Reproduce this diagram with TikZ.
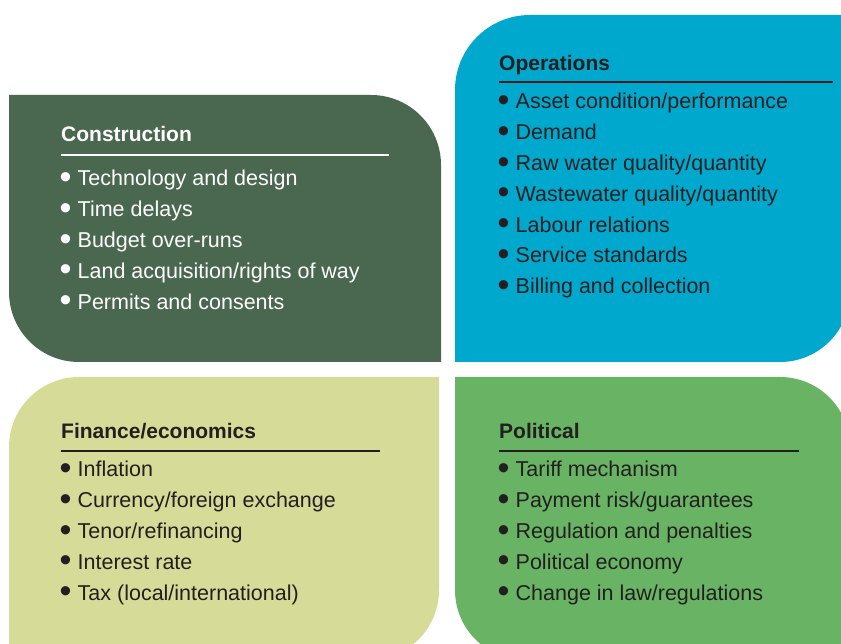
\documentclass[tikz,border=0pt]{standalone}
\usepackage{fontspec}
\setmainfont{Liberation Sans}
\definecolor{consC}{RGB}{74,104,80}
\definecolor{operC}{RGB}{0,168,206}
\definecolor{finC}{RGB}{214,220,152}
\definecolor{polC}{RGB}{104,180,100}
\definecolor{inkC}{RGB}{35,31,32}
\newcommand\mybul{\makebox[16.5pt][l]{\hspace*{-1.5pt}\smash{\raisebox{-2.5pt}{\fontsize{34}{34}\selectfont •}}}}
\tikzset{
  bodytext/.style={anchor=base west, inner sep=0pt, font=\fontsize{21.5}{26}\selectfont},
  headtext/.style={anchor=base west, inner sep=0pt, font=\bfseries\fontsize{21}{25}\selectfont},
  rule/.style={line width=1.5pt}
}
\begin{document}
\begin{tikzpicture}[x=1pt,y=1pt]
\useasboundingbox (0,0) rectangle (841,643);
% shapes
\fill[consC] (9,548) -- (371,548) arc[start angle=90,end angle=0,radius=70] -- (441,281) -- (79,281) arc[start angle=270,end angle=180,radius=70] -- cycle;
\fill[operC] (455,281) -- (455,553) arc[start angle=180,end angle=90,radius=75] -- (850,628) -- (850,351) arc[start angle=0,end angle=-90,radius=70] -- cycle;
\fill[finC] (9,-17) -- (9,196) arc[start angle=180,end angle=90,radius=70] -- (439,266) -- (439,53) arc[start angle=0,end angle=-90,radius=70] -- cycle;
\fill[polC] (455,266) -- (780,266) arc[start angle=90,end angle=0,radius=70] -- (850,-17) -- (525,-17) arc[start angle=270,end angle=180,radius=70] -- cycle;
% Construction
\node[headtext, text=white] (ch) at (61,501.5) {Construction};
\draw[rule, white] (61,488) -- (389,488);
\node[bodytext, text=white] (c1) at (61,457) {\mybul Technology and design};
\node[bodytext, text=white] (c2) at (61,426.2) {\mybul Time delays};
\node[bodytext, text=white] (c3) at (61,395.4) {\mybul Budget over-runs};
\node[bodytext, text=white] (c4) at (61,364.6) {\mybul Land acquisition/rights of way};
\node[bodytext, text=white] (c5) at (61,333.8) {\mybul Permits and consents};
% Operations
\node[headtext, text=inkC] (oh) at (499,572.5) {Operations};
\draw[rule, inkC] (499,561) -- (833,561);
\node[bodytext, text=inkC] (o1) at (499,534) {\mybul Asset condition/performance};
\node[bodytext, text=inkC] (o2) at (499,503.2) {\mybul Demand};
\node[bodytext, text=inkC] (o3) at (499,472.4) {\mybul Raw water quality/quantity};
\node[bodytext, text=inkC] (o4) at (499,441.6) {\mybul Wastewater quality/quantity};
\node[bodytext, text=inkC] (o5) at (499,410.8) {\mybul Labour relations};
\node[bodytext, text=inkC] (o6) at (499,380) {\mybul Service standards};
\node[bodytext, text=inkC] (o7) at (499,349.2) {\mybul Billing and collection};
% Finance
\node[headtext, text=inkC] (fh) at (61,204.5) {Finance/economics};
\draw[rule, inkC] (61,192) -- (380,192);
\node[bodytext, text=inkC] (f1) at (61,166) {\mybul Inflation};
\node[bodytext, text=inkC] (f2) at (61,135.2) {\mybul Currency/foreign exchange};
\node[bodytext, text=inkC] (f3) at (61,104.4) {\mybul Tenor/refinancing};
\node[bodytext, text=inkC] (f4) at (61,73.6) {\mybul Interest rate};
\node[bodytext, text=inkC] (f5) at (61,42.8) {\mybul Tax (local/international)};
% Political
\node[headtext, text=inkC] (ph) at (499,204.5) {Political};
\draw[rule, inkC] (499,192) -- (799,192);
\node[bodytext, text=inkC] (p1) at (499,166) {\mybul Tariff mechanism};
\node[bodytext, text=inkC] (p2) at (499,135.2) {\mybul Payment risk/guarantees};
\node[bodytext, text=inkC] (p3) at (499,104.4) {\mybul Regulation and penalties};
\node[bodytext, text=inkC] (p4) at (499,73.6) {\mybul Political economy};
\node[bodytext, text=inkC] (p5) at (499,42.8) {\mybul Change in law/regulations};
\end{tikzpicture}
\end{document}
